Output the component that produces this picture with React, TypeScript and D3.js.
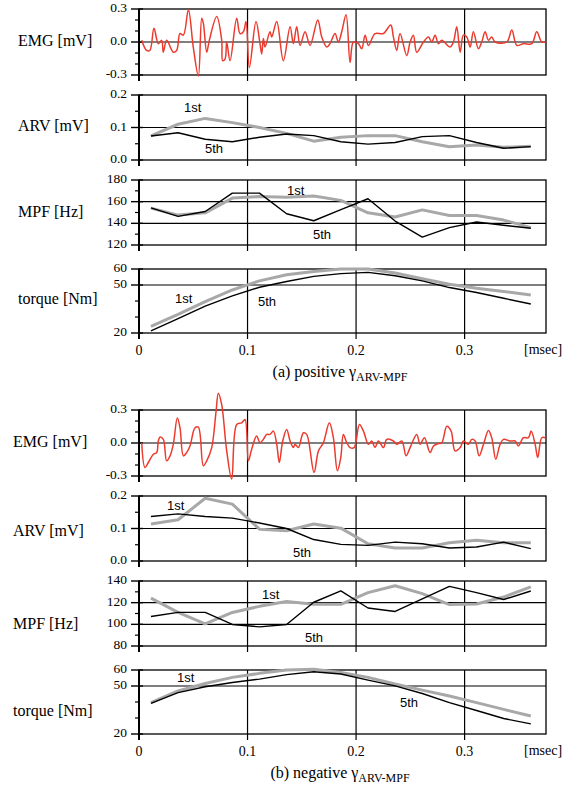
import React from 'react';
import * as d3 from 'd3';

// sample times (msec) for ARV / MPF / torque
const times = [0.011, 0.036, 0.061, 0.086, 0.111, 0.136, 0.161, 0.186, 0.211, 0.236, 0.261, 0.286, 0.311, 0.336, 0.361];

// (a) positive
const arvA1 = [0.074, 0.11, 0.128, 0.115, 0.1, 0.082, 0.058, 0.07, 0.075, 0.075, 0.056, 0.041, 0.046, 0.039, 0.042];
const arvA5 = [0.074, 0.084, 0.064, 0.056, 0.07, 0.08, 0.075, 0.056, 0.049, 0.054, 0.072, 0.075, 0.054, 0.036, 0.041];
const mpfA1 = [154, 147.6, 149.7, 163.3, 164.8, 164, 165.2, 161.2, 149.7, 145.8, 152.4, 147.3, 147.3, 143, 136];
const mpfA5 = [154.2, 146.4, 150.9, 167.9, 167.9, 148.8, 142.4, 152.7, 162.7, 142.1, 127.3, 136, 141.2, 138.2, 135.5];
const torA1 = [24.2, 31.6, 39.6, 46.9, 52.6, 56.4, 58.5, 60, 60, 57.5, 53.9, 50.5, 48, 45.9, 43.8];
const torA5 = [21.3, 29, 36.8, 43.2, 48.6, 52.2, 55.4, 57.1, 57.9, 55.8, 52.6, 48.4, 45.3, 41.7, 38.1];

// (b) negative
const arvB1 = [0.114, 0.127, 0.193, 0.175, 0.098, 0.093, 0.114, 0.101, 0.053, 0.04, 0.04, 0.056, 0.064, 0.056, 0.056];
const arvB5 = [0.137, 0.145, 0.137, 0.132, 0.117, 0.1, 0.066, 0.051, 0.048, 0.058, 0.053, 0.04, 0.043, 0.058, 0.038];
const mpfB1 = [124.2, 111, 100.5, 111, 116.6, 121, 118.5, 118.5, 129.3, 135.6, 128.3, 118.2, 118.8, 125.2, 134.6];
const mpfB5 = [107.2, 111, 111, 99.9, 97.7, 99.9, 120.4, 130.8, 115.1, 111.9, 123.6, 135, 129.3, 122.9, 130.8];
const torB1 = [39.6, 46.9, 51.6, 55.4, 57.9, 60, 60.5, 58.5, 55.4, 51.2, 47.4, 43.8, 39.6, 35.4, 31.2];
const torB5 = [39.2, 45.9, 49.5, 52.2, 54.3, 57.1, 58.9, 57.5, 53.7, 50.1, 45.3, 39.6, 34.7, 29.7, 26.3];

// raw EMG traces (msec, mV)
const emgTA = [0.0025, 0.007, 0.01, 0.0138, 0.0178, 0.0209, 0.0224, 0.0255, 0.0316, 0.0347, 0.0378, 0.0409, 0.0455, 0.05, 0.0547, 0.0578, 0.0593, 0.0624, 0.0648, 0.0716, 0.0762, 0.0771, 0.0793, 0.0808, 0.0839, 0.09, 0.0931, 0.0962, 0.0986, 0.1017, 0.1078, 0.1115, 0.1131, 0.1146, 0.1161, 0.1207, 0.1223, 0.1269, 0.133, 0.1392, 0.1422, 0.1453, 0.1484, 0.153, 0.1576, 0.1647, 0.1684, 0.173, 0.176, 0.1806, 0.1837, 0.1868, 0.1908, 0.1945, 0.1975, 0.2022, 0.2052, 0.2083, 0.2114, 0.2175, 0.2252, 0.2319, 0.2344, 0.2375, 0.2405, 0.2467, 0.2498, 0.2528, 0.2559, 0.2621, 0.2667, 0.2697, 0.2728, 0.2759, 0.279, 0.2866, 0.2897, 0.2928, 0.2959, 0.2989, 0.302, 0.3051, 0.3081, 0.3127, 0.3158, 0.3189, 0.322, 0.325, 0.3281, 0.3389, 0.3435, 0.3481, 0.3542, 0.3619, 0.3665, 0.3711, 0.3748];
const emgVA = [0.015, -0.077, -0.077, 0.124, -0.015, 0.015, -0.093, 0.015, -0.093, -0.077, 0.077, 0.062, 0.294, -0.046, -0.309, 0.217, 0.17, -0.093, 0.015, 0.232, 0.015, -0.17, -0.155, 0, -0.17, 0.217, 0.077, 0.093, 0.186, -0.232, 0.186, -0.015, -0.108, 0.031, -0.046, 0.093, 0.046, 0.186, -0.17, 0.139, -0.015, 0.139, -0.031, 0.093, -0.031, 0.201, 0.046, -0.046, -0.015, 0.077, 0, 0.093, 0.247, -0.186, 0, -0.015, -0.062, 0.062, -0.031, 0.077, 0.077, 0.155, 0.046, -0.077, 0.077, -0.124, 0, 0.062, -0.093, 0, 0.046, 0, 0.062, -0.015, 0.015, -0.046, 0, 0.139, -0.093, 0.062, 0.046, -0.046, 0.093, -0.062, 0, 0.093, 0.015, 0.046, 0, 0, 0.108, -0.031, -0.015, -0.015, 0.093, 0, 0];
const emgTB = [0.0025, 0.0055, 0.0086, 0.0132, 0.0163, 0.0178, 0.0194, 0.0224, 0.0255, 0.0286, 0.0316, 0.0353, 0.0378, 0.0409, 0.0439, 0.047, 0.0516, 0.0547, 0.0593, 0.0624, 0.067, 0.071, 0.0731, 0.0762, 0.0808, 0.0854, 0.09, 0.0946, 0.0977, 0.1008, 0.1038, 0.1084, 0.1115, 0.1146, 0.1177, 0.1207, 0.1238, 0.1269, 0.1293, 0.1324, 0.1361, 0.1392, 0.1422, 0.1438, 0.1468, 0.1515, 0.1545, 0.1613, 0.1653, 0.1699, 0.1754, 0.1791, 0.1828, 0.1859, 0.1883, 0.1914, 0.1945, 0.1982, 0.2031, 0.2068, 0.2114, 0.2144, 0.2175, 0.2206, 0.2252, 0.2283, 0.2344, 0.2375, 0.2421, 0.2461, 0.2498, 0.2559, 0.259, 0.263, 0.2682, 0.2713, 0.2759, 0.279, 0.2836, 0.2876, 0.2912, 0.2959, 0.2989, 0.3035, 0.3066, 0.3097, 0.3134, 0.3174, 0.322, 0.325, 0.3287, 0.3327, 0.3358, 0.3419, 0.3465, 0.3496, 0.3542, 0.3588, 0.3613, 0.365, 0.3674, 0.3711, 0.3742];
const emgVB = [0.003, -0.222, -0.177, -0.102, -0.087, 0.018, 0.054, 0.033, -0.162, -0.117, -0.012, 0.228, 0.138, -0.117, -0.087, -0.027, 0.138, 0.144, -0.207, -0.162, -0.042, 0.288, 0.453, 0.348, -0.072, -0.327, 0.168, 0.183, 0.213, -0.162, -0.057, 0.063, 0.003, 0.033, 0.078, 0.078, 0.108, -0.012, -0.177, 0.018, 0.123, 0.018, -0.042, -0.012, -0.042, 0.093, 0.078, -0.267, -0.072, 0.003, 0.183, 0.048, -0.252, -0.132, 0.078, 0.003, -0.042, -0.042, 0.168, 0.108, -0.012, 0.018, -0.042, 0.018, -0.042, 0.033, 0.018, -0.012, 0.018, -0.117, -0.042, 0.078, -0.012, 0.048, -0.087, -0.027, -0.006, 0.003, 0.153, 0.108, -0.072, -0.042, 0.018, -0.012, 0.033, 0.018, -0.117, -0.012, 0.114, 0.048, -0.147, -0.012, 0.033, 0.018, 0.018, -0.027, 0.048, 0.048, 0.108, -0.012, -0.132, 0.048, 0.048];

const xTicks = [0, 0.1, 0.2, 0.3];
const xTickLabels = ['0', '0.1', '0.2', '0.3'];

const serif = '"Liberation Serif", "Times New Roman", serif';
const sans = '"Liberation Sans", Arial, sans-serif';

const x = d3.scaleLinear().domain([0, 0.375]).range([139, 546]);

type PanelProps = {
  top: number; bottom: number; domain: [number, number];
  minor: number[]; labeled: number[]; fmt: (v: number) => string; grid: number[];
  label: string; labelX: number; labelY: number; children?: (y: d3.ScaleLinear<number, number>) => React.ReactNode;
};

function Panel(p: PanelProps) {
  const y = d3.scaleLinear().domain(p.domain).range([p.bottom, p.top]);
  return (
    <g>
      <text x={p.labelX} y={p.labelY} dominantBaseline="middle" fontFamily={serif} fontSize={16}>{p.label}</text>
      {p.grid.map(v => <line key={'g' + v} x1={x(0)} x2={x.range()[1]} y1={y(v)} y2={y(v)} stroke="#000" strokeWidth={1.2} />)}
      {xTicks.slice(1).map(v => <line key={'v' + v} x1={x(v)} x2={x(v)} y1={p.top} y2={p.bottom + 6} stroke="#000" strokeWidth={1.2} />)}
      {p.minor.map(v => <line key={'m' + v} x1={x(0) - 4} x2={x(0)} y1={y(v)} y2={y(v)} stroke="#000" strokeWidth={1.2} />)}
      {p.labeled.map(v => (
        <g key={'l' + v}>
          <line x1={x(0) - 8} x2={x(0) + 4} y1={y(v)} y2={y(v)} stroke="#000" strokeWidth={1.4} />
          <text x={127} y={y(v)} textAnchor="end" dominantBaseline="middle" fontFamily={serif} fontSize={13.5}>{p.fmt(v)}</text>
        </g>
      ))}
      <rect x={x(0)} y={p.top} width={x.range()[1] - x(0)} height={p.bottom - p.top} fill="none" stroke="#000" strokeWidth={1.3} />
      <line x1={x(0)} x2={x(0)} y1={p.top} y2={p.bottom + 6} stroke="#000" strokeWidth={2} />
      {p.children && p.children(y)}
    </g>
  );
}

function pathOf(xs: number[], ys: number[], y: d3.ScaleLinear<number, number>, curve: d3.CurveFactory = d3.curveLinear) {
  const line = d3.line<number>().x((_, i) => x(xs[i])).y(d => y(d)).curve(curve);
  return line(ys) || '';
}

function Pair({ a, b, y }: { a: number[]; b: number[]; y: d3.ScaleLinear<number, number> }) {
  return (
    <g fill="none">
      <path d={pathOf(times, a, y)} stroke="#a8a8a8" strokeWidth={3} strokeLinejoin="round" />
      <path d={pathOf(times, b, y)} stroke="#000" strokeWidth={1.4} strokeLinejoin="round" />
    </g>
  );
}

function Note({ x: tx, y: ty, t }: { x: number; y: number; t: string }) {
  return <text x={tx} y={ty} fontFamily={sans} fontSize={13}>{t}</text>;
}

const f1 = (v: number) => v.toFixed(1);
const f0 = (v: number) => String(v);

function Block({ top, caption, captionSub, mpfDomain, mpfLabels, mpfGrid, data, notes, labelX, labelYs }: any) {
  const [emgT, emgV, arv1, arv5, mpf1, mpf5, tor1, tor5] = data;
  const p = [top, top + 86, top + 171, top + 260];
  return (
    <g>
      <Panel top={p[0]} bottom={p[0] + 66} domain={[-0.3, 0.3]} minor={[-0.2, -0.1, 0.1, 0.2]} labeled={[-0.3, 0, 0.3]} fmt={f1} grid={[0]} label="EMG [mV]" labelX={labelX} labelY={labelYs[0]}>
        {y => <path d={pathOf(emgT, emgV, y, d3.curveCatmullRom.alpha(0.5))} fill="none" stroke="#ec3b2e" strokeWidth={1.5} strokeLinejoin="round" />}
      </Panel>
      <Panel top={p[1]} bottom={p[1] + 65} domain={[0, 0.2]} minor={[0.05, 0.15]} labeled={[0, 0.1, 0.2]} fmt={f1} grid={[0.1]} label="ARV [mV]" labelX={labelX} labelY={labelYs[1]}>
        {y => <Pair a={arv1} b={arv5} y={y} />}
      </Panel>
      <Panel top={p[2]} bottom={p[2] + 65} domain={mpfDomain} minor={[mpfDomain[0] + 10, mpfDomain[0] + 30, mpfDomain[0] + 50]} labeled={mpfLabels} fmt={f0} grid={mpfGrid} label="MPF [Hz]" labelX={labelX} labelY={labelYs[2]}>
        {y => <Pair a={mpf1} b={mpf5} y={y} />}
      </Panel>
      <Panel top={p[3]} bottom={p[3] + 64} domain={[20, 60]} minor={[30, 40]} labeled={[20, 50, 60]} fmt={f0} grid={[50]} label="torque [Nm]" labelX={labelX} labelY={labelYs[3]}>
        {y => <Pair a={tor1} b={tor5} y={y} />}
      </Panel>
      {notes.map((n: any, i: number) => <Note key={i} x={n[0]} y={n[1]} t={n[2]} />)}
      {xTicks.map((v, i) => (
        <text key={v} x={x(v)} y={p[3] + 64 + 22} textAnchor="middle" fontFamily={serif} fontSize={14}>{xTickLabels[i]}</text>
      ))}
      <text x={524} y={p[3] + 64 + 21} fontFamily={serif} fontSize={14}>[msec]</text>
      <text x={340} y={p[3] + 64 + 44} textAnchor="middle" fontFamily={serif} fontSize={16}>
        {caption}
        <tspan fontSize={12} dy={4}>{captionSub}</tspan>
      </text>
    </g>
  );
}

export default function App() {
  return (
    <svg width={568} height={786} style={{ position: 'absolute', left: 0, top: 0, background: '#fff' }}>
      <Block
        top={9}
        caption="(a) positive γ"
        captionSub="ARV-MPF"
        mpfDomain={[120, 180]}
        mpfLabels={[120, 140, 160, 180]}
        mpfGrid={[140, 160]}
        data={[emgTA, emgVA, arvA1, arvA5, mpfA1, mpfA5, torA1, torA5]}
        labelX={18}
        labelYs={[42, 127, 213, 300]}
        notes={[[184, 112, '1st'], [205, 153, '5th'], [287, 195, '1st'], [313, 239, '5th'], [175, 303, '1st'], [258, 306, '5th']]}
      />
      <Block
        top={410}
        caption="(b) negative γ"
        captionSub="ARV-MPF"
        mpfDomain={[80, 140]}
        mpfLabels={[80, 100, 120, 140]}
        mpfGrid={[100, 120]}
        data={[emgTB, emgVB, arvB1, arvB5, mpfB1, mpfB5, torB1, torB5]}
        labelX={13}
        labelYs={[443, 532, 625, 712]}
        notes={[[167, 510, '1st'], [293, 557, '5th'], [262, 599, '1st'], [305, 642, '5th'], [177, 682, '1st'], [400, 707, '5th']]}
      />
    </svg>
  );
}
